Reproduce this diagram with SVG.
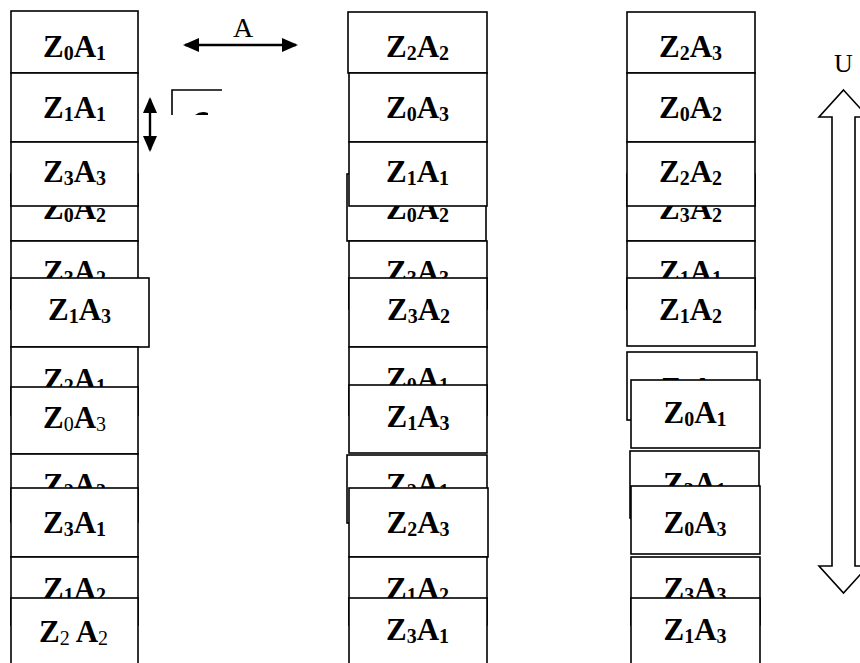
<svg xmlns="http://www.w3.org/2000/svg" width="860" height="663" viewBox="0 0 860 663">
<style>
.box{fill:#fff;stroke:#000;stroke-width:1.6}
.t{font-family:"Liberation Serif","Times New Roman",serif;font-weight:bold;font-size:31px;text-anchor:middle;fill:#000}
.s{font-size:20px}
.r{font-weight:normal}
.lbl{font-family:"Liberation Serif","Times New Roman",serif;text-anchor:middle;fill:#000}
.ln{fill:none;stroke:#000;stroke-width:2.4}
.blk{fill:#fff;stroke:#000;stroke-width:1.6}
</style>
<defs>
<marker id="ah" viewBox="0 0 16 14" refX="14" refY="7" markerWidth="16" markerHeight="14" markerUnits="userSpaceOnUse" orient="auto-start-reverse">
<path d="M0,0 L16,7 L0,14 Z" fill="#000"/>
</marker>
</defs>
<rect width="860" height="663" fill="#fff"/>

<!-- Column 1 -->
<g id="c1-z0a1"><rect class="box" x="11" y="11" width="127" height="62"/><text class="t" x="74.5" y="57">Z<tspan class="s" dy="2.5">0</tspan><tspan dy="-2.5">A</tspan><tspan class="s" dy="2.5">1</tspan></text></g>
<g id="c1-z1a1"><rect class="box" x="11" y="73" width="127" height="69"/><text class="t" x="74.5" y="118">Z<tspan class="s" dy="2.5">1</tspan><tspan dy="-2.5">A</tspan><tspan class="s" dy="2.5">1</tspan></text></g>
<g id="c1-z0a2"><rect class="box" x="11" y="174" width="127" height="67"/><text class="t" x="74.5" y="219">Z<tspan class="s" dy="2.5">0</tspan><tspan dy="-2.5">A</tspan><tspan class="s" dy="2.5">2</tspan></text></g>
<g id="c1-z3a3"><rect class="box" x="11" y="142" width="127" height="64"/><text class="t" x="74.5" y="182">Z<tspan class="s" dy="2.5">3</tspan><tspan dy="-2.5">A</tspan><tspan class="s" dy="2.5">3</tspan></text></g>
<g id="c1-z3a2"><rect class="box" x="11" y="241" width="127" height="68"/><text class="t" x="74.5" y="282">Z<tspan class="s" dy="2.5">3</tspan><tspan dy="-2.5">A</tspan><tspan class="s" dy="2.5">2</tspan></text></g>
<g id="c1-z1a3"><rect class="box" x="11" y="278" width="138" height="69"/><text class="t" x="79.5" y="320">Z<tspan class="s" dy="2.5">1</tspan><tspan dy="-2.5">A</tspan><tspan class="s" dy="2.5">3</tspan></text></g>
<g id="c1-z2a1"><rect class="box" x="11" y="347" width="127" height="68"/><text class="t" x="74.5" y="390">Z<tspan class="s" dy="2.5">2</tspan><tspan dy="-2.5">A</tspan><tspan class="s" dy="2.5">1</tspan></text></g>
<g id="c1-z0a3"><rect class="box" x="11" y="387" width="127" height="67"/><text class="t" x="74.5" y="428">Z<tspan class="s r" dy="2.5">0</tspan><tspan dy="-2.5">A</tspan><tspan class="s r" dy="2.5">3</tspan></text></g>
<g id="c1-z2a3"><rect class="box" x="11" y="454" width="127" height="68"/><text class="t" x="74.5" y="495">Z<tspan class="s" dy="2.5">2</tspan><tspan dy="-2.5">A</tspan><tspan class="s" dy="2.5">3</tspan></text></g>
<g id="c1-z3a1"><rect class="box" x="11" y="488" width="127" height="69"/><text class="t" x="74.5" y="533">Z<tspan class="s" dy="2.5">3</tspan><tspan dy="-2.5">A</tspan><tspan class="s" dy="2.5">1</tspan></text></g>
<g id="c1-z1a2"><rect class="box" x="11" y="557" width="127" height="68"/><text class="t" x="74.5" y="599">Z<tspan class="s" dy="2.5">1</tspan><tspan dy="-2.5">A</tspan><tspan class="s" dy="2.5">2</tspan></text></g>
<g id="c1-z2a2"><rect class="box" x="11" y="598" width="127" height="75"/><text class="t" x="73.5" y="642">Z<tspan class="s r" dy="2.5">2</tspan><tspan dy="-2.5"> A</tspan><tspan class="s r" dy="2.5">2</tspan></text></g>

<!-- Column 2 -->
<g id="c2-z2a2"><rect class="box" x="348" y="12" width="139" height="61"/><text class="t" x="417.5" y="57">Z<tspan class="s" dy="2.5">2</tspan><tspan dy="-2.5">A</tspan><tspan class="s" dy="2.5">2</tspan></text></g>
<g id="c2-z0a3"><rect class="box" x="349" y="73" width="138" height="69"/><text class="t" x="417.5" y="118">Z<tspan class="s" dy="2.5">0</tspan><tspan dy="-2.5">A</tspan><tspan class="s" dy="2.5">3</tspan></text></g>
<g id="c2-z0a2"><rect class="box" x="347" y="174" width="139" height="67"/><text class="t" x="417.5" y="219">Z<tspan class="s" dy="2.5">0</tspan><tspan dy="-2.5">A</tspan><tspan class="s" dy="2.5">2</tspan></text></g>
<g id="c2-z1a1"><rect class="box" x="349" y="142" width="138" height="64"/><text class="t" x="417.5" y="182">Z<tspan class="s" dy="2.5">1</tspan><tspan dy="-2.5">A</tspan><tspan class="s" dy="2.5">1</tspan></text></g>
<g id="c2-z3a3"><rect class="box" x="349" y="241" width="138" height="68"/><text class="t" x="417.5" y="282">Z<tspan class="s" dy="2.5">3</tspan><tspan dy="-2.5">A</tspan><tspan class="s" dy="2.5">3</tspan></text></g>
<g id="c2-z3a2"><rect class="box" x="349" y="278" width="138" height="69"/><text class="t" x="418.5" y="320">Z<tspan class="s" dy="2.5">3</tspan><tspan dy="-2.5">A</tspan><tspan class="s" dy="2.5">2</tspan></text></g>
<g id="c2-z0a1"><rect class="box" x="349" y="347" width="138" height="68"/><text class="t" x="417.5" y="389">Z<tspan class="s" dy="2.5">0</tspan><tspan dy="-2.5">A</tspan><tspan class="s" dy="2.5">1</tspan></text></g>
<g id="c2-z1a3"><rect class="box" x="349" y="385" width="138" height="68"/><text class="t" x="418" y="427">Z<tspan class="s" dy="2.5">1</tspan><tspan dy="-2.5">A</tspan><tspan class="s" dy="2.5">3</tspan></text></g>
<g id="c2-z2a1"><rect class="box" x="347" y="455" width="140" height="68"/><text class="t" x="417.5" y="495">Z<tspan class="s" dy="2.5">2</tspan><tspan dy="-2.5">A</tspan><tspan class="s" dy="2.5">1</tspan></text></g>
<g id="c2-z2a3"><rect class="box" x="349" y="488" width="139" height="69"/><text class="t" x="418" y="533">Z<tspan class="s" dy="2.5">2</tspan><tspan dy="-2.5">A</tspan><tspan class="s" dy="2.5">3</tspan></text></g>
<g id="c2-z1a2"><rect class="box" x="349" y="557" width="138" height="68"/><text class="t" x="417.5" y="599">Z<tspan class="s" dy="2.5">1</tspan><tspan dy="-2.5">A</tspan><tspan class="s" dy="2.5">2</tspan></text></g>
<g id="c2-z3a1"><rect class="box" x="349" y="598" width="138" height="75"/><text class="t" x="417.5" y="640">Z<tspan class="s" dy="2.5">3</tspan><tspan dy="-2.5">A</tspan><tspan class="s" dy="2.5">1</tspan></text></g>

<!-- Column 3 -->
<g id="c3-z2a3"><rect class="box" x="627" y="12" width="128" height="61"/><text class="t" x="690.5" y="57">Z<tspan class="s" dy="2.5">2</tspan><tspan dy="-2.5">A</tspan><tspan class="s" dy="2.5">3</tspan></text></g>
<g id="c3-z0a2"><rect class="box" x="627" y="73" width="128" height="69"/><text class="t" x="690.5" y="118">Z<tspan class="s" dy="2.5">0</tspan><tspan dy="-2.5">A</tspan><tspan class="s" dy="2.5">2</tspan></text></g>
<g id="c3-z3a2"><rect class="box" x="627" y="174" width="128" height="67"/><text class="t" x="690.5" y="219">Z<tspan class="s" dy="2.5">3</tspan><tspan dy="-2.5">A</tspan><tspan class="s" dy="2.5">2</tspan></text></g>
<g id="c3-z2a2"><rect class="box" x="627" y="142" width="128" height="64"/><text class="t" x="690.5" y="182">Z<tspan class="s" dy="2.5">2</tspan><tspan dy="-2.5">A</tspan><tspan class="s" dy="2.5">2</tspan></text></g>
<g id="c3-z1a1"><rect class="box" x="627" y="241" width="128" height="68"/><text class="t" x="690.5" y="282">Z<tspan class="s" dy="2.5">1</tspan><tspan dy="-2.5">A</tspan><tspan class="s" dy="2.5">1</tspan></text></g>
<g id="c3-z1a2"><rect class="box" x="627" y="278" width="128" height="68"/><text class="t" x="690.5" y="320">Z<tspan class="s" dy="2.5">1</tspan><tspan dy="-2.5">A</tspan><tspan class="s" dy="2.5">2</tspan></text></g>
<g id="c3-z2a1"><rect class="box" x="627" y="352" width="130" height="68"/><text class="t" x="692" y="399">Z<tspan class="s" dy="2.5">2</tspan><tspan dy="-2.5">A</tspan><tspan class="s" dy="2.5">1</tspan></text></g>
<g id="c3-z0a1"><rect class="box" x="631" y="380" width="129" height="68"/><text class="t" x="695" y="423">Z<tspan class="s" dy="2.5">0</tspan><tspan dy="-2.5">A</tspan><tspan class="s" dy="2.5">1</tspan></text></g>
<g id="c3-z3a1"><rect class="box" x="630" y="451" width="129" height="67"/><text class="t" x="694.5" y="494">Z<tspan class="s" dy="2.5">3</tspan><tspan dy="-2.5">A</tspan><tspan class="s" dy="2.5">1</tspan></text></g>
<g id="c3-z0a3"><rect class="box" x="631" y="486" width="129" height="68"/><text class="t" x="695" y="533">Z<tspan class="s" dy="2.5">0</tspan><tspan dy="-2.5">A</tspan><tspan class="s" dy="2.5">3</tspan></text></g>
<g id="c3-z3a3"><rect class="box" x="631" y="557" width="129" height="68"/><text class="t" x="695" y="599">Z<tspan class="s" dy="2.5">3</tspan><tspan dy="-2.5">A</tspan><tspan class="s" dy="2.5">3</tspan></text></g>
<g id="c3-z1a3"><rect class="box" x="631" y="598" width="129" height="75"/><text class="t" x="695" y="640">Z<tspan class="s" dy="2.5">1</tspan><tspan dy="-2.5">A</tspan><tspan class="s" dy="2.5">3</tspan></text></g>

<!-- Small partial frame -->
<g id="frag">
<path d="M172,115 L172,90 L222,90" fill="none" stroke="#000" stroke-width="1.6"/>
<path d="M195,115 Q201,110.5 208,113 L208,115 Z" fill="#000"/>
</g>

<!-- Connectors -->
<g id="connectors">
<line class="ln" x1="185" y1="45" x2="296" y2="45" marker-start="url(#ah)" marker-end="url(#ah)"/>
<line class="ln" x1="150" y1="99" x2="150" y2="150" marker-start="url(#ah)" marker-end="url(#ah)"/>
<path class="blk" d="M843.5,90 L868,117 L855,117 L855,566 L868,566 L843.5,593 L819,566 L832,566 L832,117 L819,117 Z"/>
</g>
<g id="label-A"><text class="lbl" x="243" y="37" style="font-size:28px">A</text></g>
<g id="label-U"><text class="lbl" x="843.5" y="72" style="font-size:26px">U</text></g>
</svg>
